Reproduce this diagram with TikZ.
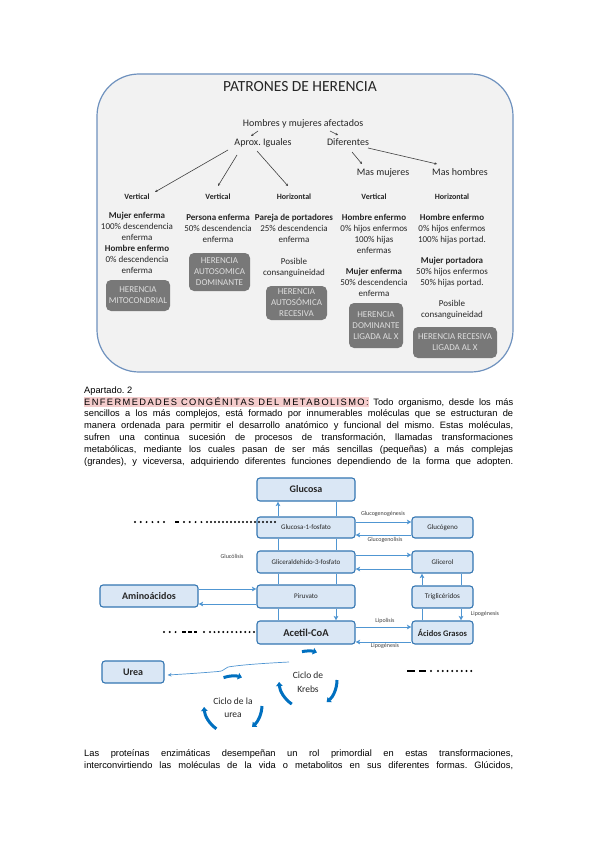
\documentclass[tikz,border=0pt]{standalone}
\usepackage{fontspec}
\setmainfont{Carlito}
\newfontfamily\arialf{Liberation Sans}
\usetikzlibrary{arrows.meta}
\definecolor{boxfill}{RGB}{218,231,245}
\definecolor{boxdraw}{RGB}{52,118,178}
\definecolor{conn}{RGB}{80,150,210}
\definecolor{cyc}{RGB}{0,112,192}
\definecolor{panelfill}{RGB}{242,242,242}
\definecolor{paneldraw}{RGB}{110,145,190}
\definecolor{dkfill}{RGB}{120,120,120}
\definecolor{dktext}{RGB}{222,222,222}
\definecolor{hlpink}{RGB}{244,204,204}
\definecolor{txt}{RGB}{38,38,38}
\frenchspacing
\newcommand\jline[1]{\hbox to 429pt{#1}}
\begin{document}
\begin{tikzpicture}[x=1pt,y=-1pt,
  ct/.style={anchor=base,inner sep=0pt,font=\fontsize{9}{11}\selectfont,text=txt},
  cb/.style={anchor=base,inner sep=0pt,font=\fontsize{9}{11}\selectfont\bfseries,text=txt},
  hd/.style={anchor=base,inner sep=0pt,font=\fontsize{8}{10}\selectfont\bfseries,text=txt},
  lv/.style={anchor=base,inner sep=0pt,font=\fontsize{10}{12}\selectfont,text=txt},
  dk/.style={fill=dkfill,rounded corners=5pt,text=dktext,align=center,inner sep=0pt,font=\fontsize{9}{11}\selectfont},
  tarr/.style={draw=black!75,line width=0.6pt,-{Stealth[length=2.5pt,width=2.5pt]}},
  bx/.style={draw=boxdraw,fill=boxfill,line width=1.1pt,rounded corners=3pt,inner sep=0pt,text=txt},
  cn/.style={draw=conn,line width=1pt},
  ca/.style={draw=conn,line width=1pt,-{Stealth[length=4.5pt,width=4.5pt,inset=1pt]}},
  tlab/.style={inner sep=0pt,font=\fontsize{6}{7}\selectfont,text=black!75},
  cyca/.style={draw=cyc,line width=3pt,-{Triangle[length=4pt,width=6.5pt]}},
  dotln/.style={line width=2.2pt,line cap=round,dash pattern=on 0pt off 5.8pt},
]
\fill[white] (0,0) rectangle (599,848);
\useasboundingbox (0,0) rectangle (599,848);

% ---------- top panel ----------
\draw[fill=panelfill,draw=paneldraw,line width=1.2pt,rounded corners=42pt] (97,74) rectangle (513,372);
\node[anchor=base,inner sep=0pt,font=\fontsize{15.5}{18}\selectfont,text=txt] (title) at (300,91.5) {PATRONES DE HERENCIA};
\node[lv] (hom) at (303,127) {Hombres y mujeres afectados};
\node[lv] (apr) at (263,146) {Aprox. Iguales};
\node[lv] (dif) at (348,146) {Diferentes};
\node[lv] (mm) at (383,175) {Mas mujeres};
\node[lv] (mh) at (460,175) {Mas hombres};
\node[hd] (v1) at (137,199) {Vertical};
\node[hd] (v2) at (218,199) {Vertical};
\node[hd] (h3) at (294,199) {Horizontal};
\node[hd] (v4) at (374,199) {Vertical};
\node[hd] (h5) at (452,199) {Horizontal};

\draw[tarr] ([shift={(-45,4)}]hom.base) -- ([shift={(-12,-10)}]apr.base);
\draw[tarr] ([shift={(27,4)}]hom.base) -- ([shift={(-10,-11)}]dif.base);
\draw[tarr] ([shift={(-35,4)}]apr.base) -- ([shift={(18,-7)}]v1.base);
\draw[tarr] ([shift={(-26,9)}]apr.base) -- ([shift={(0,-13)}]v2.base);
\draw[tarr] ([shift={(-6,5)}]apr.base) -- ([shift={(-6,-13)}]h3.base);
\draw[tarr] ([shift={(4,6)}]dif.base) -- ([shift={(-21,-11)}]mm.base);
\draw[tarr] ([shift={(20,2)}]dif.base) -- ([shift={(-23,-11)}]mh.base);

% column 1
\node[cb] (c1a) at (137,218.5) {Mujer enferma};
\node[ct] (c1b) at (137,229.4) {100\% descendencia};
\node[ct] (c1c) at (137,240.3) {enferma};
\node[cb] (c1d) at (137,251.2) {Hombre enfermo};
\node[ct] (c1e) at (137,262.1) {0\% descendencia};
\node[ct] (c1f) at (137,273) {enferma};
\node[dk,minimum width=64pt,minimum height=31pt] (mito) at (138,295.5) {HERENCIA\\MITOCONDRIAL};
% column 2
\node[cb] (c2a) at (218,220.5) {Persona enferma};
\node[ct] (c2b) at (218,231.4) {50\% descendencia};
\node[ct] (c2c) at (218,242.3) {enferma};
\node[dk,minimum width=61pt,minimum height=38pt] (adom) at (219.5,272) {HERENCIA\\AUTOSOMICA\\DOMINANTE};
% column 3
\node[cb] (c3a) at (294,220.5) {Pareja de portadores};
\node[ct] (c3b) at (294,231.4) {25\% descendencia};
\node[ct] (c3c) at (294,242.3) {enferma};
\node[ct] (c3d) at (294,264.5) {Posible};
\node[ct] (c3e) at (294,275.4) {consanguineidad};
\node[dk,minimum width=61pt,minimum height=34pt] (arec) at (296.5,303) {HERENCIA\\AUTOSÓMICA\\RECESIVA};
% column 4
\node[cb] (c4a) at (374,220.5) {Hombre enfermo};
\node[ct] (c4b) at (374,231.4) {0\% hijos enfermos};
\node[ct] (c4c) at (374,242.3) {100\% hijas};
\node[ct] (c4d) at (374,253.2) {enfermas};
\node[cb] (c4e) at (374,274.5) {Mujer enferma};
\node[ct] (c4f) at (374,285.4) {50\% descendencia};
\node[ct] (c4g) at (374,296.3) {enferma};
\node[dk,minimum width=54pt,minimum height=45pt] (domx) at (376,325.5) {HERENCIA\\DOMINANTE\\LIGADA AL X};
% column 5
\node[cb] (c5a) at (452,220.5) {Hombre enfermo};
\node[ct] (c5b) at (452,231.4) {0\% hijos enfermos};
\node[ct] (c5c) at (452,242.3) {100\% hijas portad.};
\node[cb] (c5d) at (452,263.5) {Mujer portadora};
\node[ct] (c5e) at (452,274.4) {50\% hijos enfermos};
\node[ct] (c5f) at (452,285.3) {50\% hijas portad.};
\node[ct] (c5g) at (452,306.5) {Posible};
\node[ct] (c5h) at (452,317.4) {consanguineidad};
\node[dk,minimum width=84pt,minimum height=31pt] (recx) at (455,342.5) {HERENCIA RECESIVA\\LIGADA AL X};

% ---------- paragraph ----------
\node[anchor=north west,inner sep=0pt,font=\arialf\fontsize{9.3}{11.8}\selectfont,text=black] (par1) at (84,386.3)
{\vbox{\hsize=429pt
\hbox{Apartado. 2}
\jline{{\setlength{\fboxsep}{0pt}\colorbox{hlpink}{\rule[-1.8pt]{0pt}{8.8pt}{\addfontfeature{LetterSpace=15}ENFERMEDADES CONGÉNITAS DEL METABOLISMO:}}} Todo organismo, desde los más}
\jline{sencillos a los más complejos, está formado por innumerables moléculas que se estructuran de}
\jline{manera ordenada para permitir el desarrollo anatómico y funcional del mismo. Estas moléculas,}
\jline{sufren una continua sucesión de procesos de transformación, llamadas transformaciones}
\jline{metabólicas, mediante los cuales pasan de ser más sencillas (pequeñas) a más complejas}
\jline{(grandes), y viceversa, adquiriendo diferentes funciones dependiendo de la forma que adopten.}
}};

% ---------- metabolism diagram ----------
\node[bx,minimum width=98pt,minimum height=23pt,font=\fontsize{10}{12}\selectfont\bfseries] (glu) at (306,489.5) {Glucosa};
\node[bx,minimum width=98pt,minimum height=21pt,font=\fontsize{7}{8}\selectfont] (g1p) at (306,527.5) {Glucosa-1-fosfato};
\node[bx,minimum width=98pt,minimum height=22pt,font=\fontsize{7}{8}\selectfont] (gal) at (306,562) {Gliceraldehido-3-fosfato};
\node[bx,minimum width=98pt,minimum height=23pt,font=\fontsize{7}{8}\selectfont] (pir) at (306,596.5) {Piruvato};
\node[bx,minimum width=98pt,minimum height=23pt,font=\fontsize{10.5}{12}\selectfont\bfseries] (ace) at (306,632.5) {Acetil-CoA};
\node[bx,minimum width=61pt,minimum height=21pt,font=\fontsize{7}{8}\selectfont] (glc) at (442.5,527.5) {Glucógeno};
\node[bx,minimum width=61pt,minimum height=22pt,font=\fontsize{7}{8}\selectfont] (gli) at (442.5,562) {Glicerol};
\node[bx,minimum width=61pt,minimum height=22pt,font=\fontsize{7.2}{8}\selectfont] (tri) at (442.5,597) {Triglicéridos};
\node[bx,minimum width=61pt,minimum height=23pt,font=\fontsize{8.5}{10}\selectfont\bfseries] (aci) at (442.5,632.5) {Ácidos Grasos};
\node[bx,minimum width=98pt,minimum height=22pt,font=\fontsize{10}{12}\selectfont\bfseries] (ami) at (149,596) {Aminoácidos};
\node[bx,minimum width=62pt,minimum height=22pt,font=\fontsize{10}{12}\selectfont\bfseries] (ure) at (133,672) {Urea};

\draw[ca] ([xshift=-28pt]g1p.north) -- ([xshift=-28pt]glu.south);
\draw[cn] ([xshift=30pt]glu.south) -- ([xshift=30pt]g1p.north);
\draw[cn] ([xshift=-28pt]g1p.south) -- ([xshift=-28pt]gal.north);
\draw[cn] ([xshift=30pt]g1p.south) -- ([xshift=30pt]gal.north);
\draw[cn] ([xshift=-28pt]gal.south) -- ([xshift=-28pt]pir.north);
\draw[cn] ([xshift=30pt]gal.south) -- ([xshift=30pt]pir.north);
\draw[cn] ([xshift=-28pt]pir.south) -- ([xshift=-28pt]ace.north);
\draw[ca] ([xshift=30pt]pir.south) -- ([xshift=30pt]ace.north);

\draw[ca] ([shift={(0,-5.5)}]g1p.east) -- ([shift={(0,-5.5)}]glc.west);
\draw[ca] ([shift={(0,7.5)}]glc.west) -- ([shift={(0,7.5)}]g1p.east);
\draw[ca] ([shift={(0,-7)}]gal.east) -- ([shift={(0,-7)}]gli.west);
\draw[ca] ([shift={(0,7)}]gli.west) -- ([shift={(0,7)}]gal.east);
\draw[ca] ([shift={(0,-7)}]ami.east) -- ([shift={(0,-7.5)}]pir.west);
\draw[ca] ([shift={(0,7.5)}]pir.west) -- ([shift={(0,8)}]ami.east);
\draw[ca] ([shift={(0,-5.5)}]ace.east) -- ([shift={(0,-5.5)}]aci.west);
\draw[ca] ([shift={(0,9.5)}]aci.west) -- ([shift={(0,9.5)}]ace.east);
\draw[ca] ([xshift=-20.5pt]tri.north) -- ([xshift=-20.5pt]gli.south);
\draw[cn] ([xshift=18.5pt]gli.south) -- ([xshift=18.5pt]tri.north);
\draw[ca] ([xshift=18.5pt]tri.south) -- ([xshift=18.5pt]aci.north);
\draw[cn] ([xshift=-20.5pt]aci.north) -- ([xshift=-20.5pt]tri.south);

\node[tlab] (lgg) at (383,514) {Glucogenogénesis};
\node[tlab] (lgl) at (385,539.5) {Glucogenolisis};
\node[tlab] (lgc) at (232,556) {Glucólisis};
\node[tlab] (llp) at (385,621) {Lipolisis};
\node[tlab] (llg) at (385,645.5) {Lipogénesis};
\node[tlab] (llg2) at (485,614) {Lipogénesis};

% dotted lines
\draw[dotln] (135,522) -- (165,522);
\fill (175,520.8) rectangle (179,523.2);
\draw[dotln] (184,522) -- (203,522);
\draw[dotln,dash pattern=on 0pt off 4pt] (207,522) -- (277,522);
\draw[dotln] (164,632) -- (177,632);
\fill (182,630.8) rectangle (186,633.2);
\fill (188,630.8) rectangle (192,633.2);
\fill (194,630.8) rectangle (197,633.2);
\draw[dotln] (204,632) -- (205,632);
\draw[dotln,dash pattern=on 0pt off 4.4pt] (210,632) -- (258,632);
\fill (407,669.8) rectangle (415,672.2);
\fill (419,669.8) rectangle (426,672.2);
\draw[dotln] (431,671) -- (432,671);
\draw[dotln,dash pattern=on 0pt off 4.75pt] (438,671) -- (476,671);

% cycles
\coordinate (kc) at (308,680);
\node[align=center,font=\fontsize{9.5}{14}\selectfont,text=txt,inner sep=0pt] (kt) at (308,682) {Ciclo de\\Krebs};
\draw[cyca] ([shift={(-102:29)}]kc) arc[start angle=-102,end angle=-72,radius=29];
\draw[cyca] ([shift={(0:29)}]kc) arc[start angle=0,end angle=50,radius=29];
\draw[cyca] ([shift={(124:29)}]kc) arc[start angle=124,end angle=176,radius=29];

\coordinate (uc) at (233,705);
\node[align=center,font=\fontsize{9.5}{13}\selectfont,text=txt,inner sep=0pt] (ut) at (233,707.5) {Ciclo de la\\urea};
\draw[cyca] ([shift={(-109:29)}]uc) arc[start angle=-109,end angle=-72,radius=29];
\draw[cyca] ([shift={(2:29)}]uc) arc[start angle=2,end angle=49,radius=29];
\draw[cyca] ([shift={(125:29)}]uc) arc[start angle=125,end angle=176,radius=29];

\coordinate (us) at (289,662);
\draw[draw=conn,line width=0.7pt,-{Stealth[length=4pt,width=3.5pt]}] (us) .. controls (260,663.5) and (240,665) .. (228,667) .. controls (224,668) and (225,671) .. (218,671.5) .. controls (200,673) and (185,674) .. ([shift={(3,3)}]ure.east);

% ---------- bottom paragraph ----------
\node[anchor=north west,inner sep=0pt,font=\arialf\fontsize{9.3}{11.8}\selectfont,text=black] (par2) at (84,749.3)
{\vbox{\hsize=429pt
\jline{Las proteínas enzimáticas desempeñan un rol primordial en estas transformaciones,}
\jline{interconvirtiendo las moléculas de la vida o metabolitos en sus diferentes formas. Glúcidos,}
}};
\end{tikzpicture}
\end{document}
